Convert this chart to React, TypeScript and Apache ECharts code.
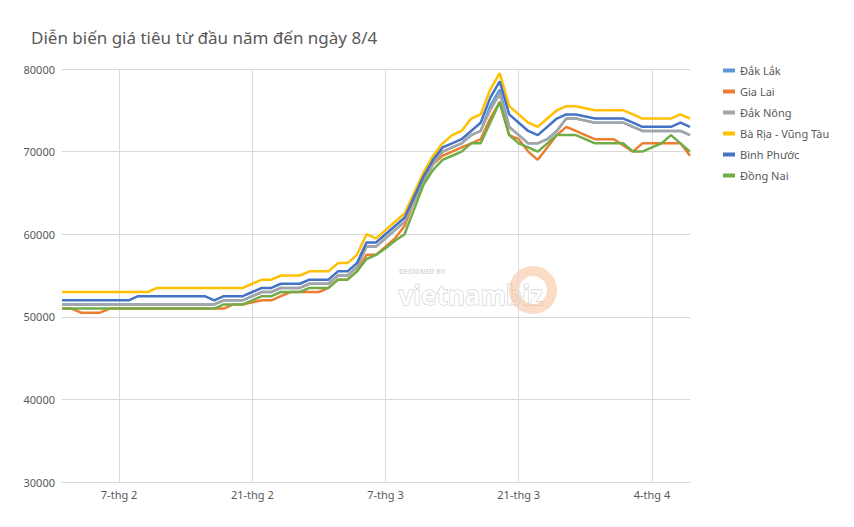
import React, { useEffect, useRef } from "react";
import * as echarts from "echarts";

const titleText = "Diễn biến giá tiêu từ đầu năm đến ngày 8/4";
const seriesNames = ["Đắk Lắk", "Gia Lai", "Đắk Nông", "Bà Rịa - Vũng Tàu", "Bình Phước", "Đồng Nai"];
const seriesColors = ["#5B9BD5", "#ED7D31", "#A5A5A5", "#FFC000", "#4472C4", "#70AD47"];
const tickLabels = ["7-thg 2", "21-thg 2", "7-thg 3", "21-thg 3", "4-thg 4"];

// daily dates, 1 Feb .. 8 Apr
const monthDays = [
  { m: 2, from: 1, to: 28 },
  { m: 3, from: 1, to: 31 },
  { m: 4, from: 1, to: 8 },
];
const categories: string[] = [];
monthDays.forEach((md) => {
  for (let d = md.from; d <= md.to; d++) categories.push(`${d}-thg ${md.m}`);
});

const dakNong = [
  51500, 51500, 51500, 51500, 51500, 51500, 51500, 51500, 51500, 51500,
  51500, 51500, 51500, 51500, 51500, 51500, 51500, 52000, 52000, 52000,
  52500, 53000, 53000, 53500, 53500, 53500, 54000, 54000, 54000, 55000,
  55000, 56000, 58500, 58500, 59500, 60500, 61500, 64000, 66500, 68500,
  70000, 70500, 71000, 72000, 72500, 75000, 77000, 73000, 72000, 71000,
  71000, 71500, 72500, 74000, 74000, 73750, 73500, 73500, 73500, 73500,
  73000, 72500, 72500, 72500, 72500, 72500, 72000,
];
const dakLak = [
  51500, 51500, 51500, 51500, 51500, 51500, 51500, 51500, 51500, 51500,
  51500, 51500, 51500, 51500, 51500, 51500, 51500, 52000, 52000, 52000,
  52500, 53000, 53000, 53500, 53500, 53500, 54000, 54000, 54000, 55000,
  55000, 56000, 58500, 58500, 59500, 60500, 61500, 64000, 66500, 68500,
  70000, 70500, 71000, 72000, 72500, 75500, 77500, 73000, 72000, 71000,
  71000, 71500, 72500, 74000, 74000, 73750, 73500, 73500, 73500, 73500,
  73000, 72500, 72500, 72500, 72500, 72500, 72000,
];
const giaLai = [
  51000, 51000, 50500, 50500, 50500, 51000, 51000, 51000, 51000, 51000,
  51000, 51000, 51000, 51000, 51000, 51000, 51000, 51000, 51500, 51500,
  51750, 52000, 52000, 52500, 53000, 53000, 53000, 53000, 53500, 54500,
  54500, 55500, 57500, 57500, 58500, 59500, 61000, 64000, 66500, 68500,
  69500, 70000, 70500, 71000, 71500, 74000, 76000, 72000, 71500, 70000,
  69000, 70500, 72000, 73000, 72500, 72000, 71500, 71500, 71500, 70750,
  70000, 71000, 71000, 71000, 71000, 71000, 69500,
];
const baRiaVungTau = [
  53000, 53000, 53000, 53000, 53000, 53000, 53000, 53000, 53000, 53000,
  53500, 53500, 53500, 53500, 53500, 53500, 53500, 53500, 53500, 53500,
  54000, 54500, 54500, 55000, 55000, 55000, 55500, 55500, 55500, 56500,
  56500, 57500, 60000, 59500, 60500, 61500, 62500, 65000, 67500, 69500,
  71000, 72000, 72500, 74000, 74500, 77500, 79500, 75500, 74500, 73500,
  73000, 74000, 75000, 75500, 75500, 75250, 75000, 75000, 75000, 75000,
  74500, 74000, 74000, 74000, 74000, 74500, 74000,
];
const binhPhuoc = [
  52000, 52000, 52000, 52000, 52000, 52000, 52000, 52000, 52500, 52500,
  52500, 52500, 52500, 52500, 52500, 52500, 52000, 52500, 52500, 52500,
  53000, 53500, 53500, 54000, 54000, 54000, 54500, 54500, 54500, 55500,
  55500, 56500, 59000, 59000, 60000, 61000, 62000, 64500, 67000, 69000,
  70500, 71000, 71500, 72500, 73500, 76500, 78500, 74500, 73500, 72500,
  72000, 73000, 74000, 74500, 74500, 74250, 74000, 74000, 74000, 74000,
  73500, 73000, 73000, 73000, 73000, 73500, 73000,
];
const dongNai = [
  51000, 51000, 51000, 51000, 51000, 51000, 51000, 51000, 51000, 51000,
  51000, 51000, 51000, 51000, 51000, 51000, 51000, 51500, 51500, 51500,
  52000, 52500, 52500, 53000, 53000, 53000, 53500, 53500, 53500, 54500,
  54500, 55500, 57000, 57500, 58300, 59200, 60000, 63000, 66000, 67800,
  69000, 69500, 70000, 71000, 71000, 73500, 76000, 72000, 71000, 70500,
  70000, 71000, 72000, 72000, 72000, 71500, 71000, 71000, 71000, 71000,
  70000, 70000, 70500, 71000, 72000, 71000, 70000,
];

const seriesData = [dakLak, giaLai, dakNong, baRiaVungTau, binhPhuoc, dongNai];

const FONT = "'Noto Sans', 'Liberation Sans', sans-serif";
const TEXT_COLOR = "#595959";
const GRID_COLOR = "#D9D9D9";

export default function App() {
  const ref = useRef<HTMLDivElement>(null);

  useEffect(() => {
    document.body.style.margin = "0";
    if (!ref.current) return;
    const chart = echarts.init(ref.current, undefined, { renderer: "svg" });
    const isTick = (i: number) => tickLabels.indexOf(categories[i]) >= 0;

    chart.setOption({
      animation: false,
      backgroundColor: "#ffffff",
      title: {
        text: titleText,
        left: 26,
        top: 24,
        textStyle: { color: TEXT_COLOR, fontSize: 17, fontWeight: "normal", fontFamily: FONT },
      },
      grid: { left: 62, right: 164, top: 69, bottom: 45, containLabel: false },
      legend: {
        orient: "vertical",
        left: 718,
        top: 60,
        itemWidth: 12,
        itemHeight: 4,
        itemGap: 10,
        icon: "rect",
        data: seriesNames,
        textStyle: { color: TEXT_COLOR, fontSize: 11, fontFamily: FONT },
      },
      xAxis: {
        type: "category",
        boundaryGap: false,
        data: categories,
        axisLine: { lineStyle: { color: GRID_COLOR, width: 1 } },
        axisTick: { show: false },
        axisLabel: {
          interval: (i: number) => isTick(i),
          color: TEXT_COLOR,
          fontSize: 11,
          fontFamily: FONT,
          margin: 7,
        },
        splitLine: {
          show: true,
          interval: (i: number) => isTick(i),
          lineStyle: { color: GRID_COLOR, width: 1 },
        },
      },
      yAxis: {
        type: "value",
        min: 30000,
        max: 80000,
        interval: 10000,
        axisLine: { show: false },
        axisTick: { show: false },
        axisLabel: {
          color: TEXT_COLOR,
          fontSize: 11,
          fontFamily: FONT,
          margin: 7,
          formatter: (v: number) => String(v),
        },
        splitLine: { show: true, lineStyle: { color: GRID_COLOR, width: 1 } },
      },
      graphic: [
        {
          type: "text",
          left: 399,
          top: 268,
          silent: true,
          style: { text: "DESIGNED BY", fill: "rgba(190,190,190,0.6)", fontSize: 7, fontFamily: FONT, fontWeight: "bold" },
        },
        {
          type: "text",
          left: 398,
          top: 281,
          silent: true,
          style: {
            text: "vietnambiz",
            fill: "rgba(255,255,255,0.9)",
            stroke: "rgba(185,185,185,0.8)",
            lineWidth: 1,
            fontSize: 26,
            fontWeight: "bold",
            fontFamily: FONT,
          },
        },
        {
          type: "ring",
          shape: { cx: 533, cy: 290, r: 24, r0: 14 },
          silent: true,
          style: { fill: "rgba(244,177,131,0.45)" },
        },
      ],
      series: seriesNames.map((name, k) => ({
        name,
        type: "line",
        data: seriesData[k],
        showSymbol: false,
        symbol: "none",
        color: seriesColors[k],
        lineStyle: { width: 2.5, color: seriesColors[k] },
        z: 2,
      })),
    });

    return () => chart.dispose();
  }, []);

  return <div ref={ref} style={{ width: 854, height: 527 }} />;
}
